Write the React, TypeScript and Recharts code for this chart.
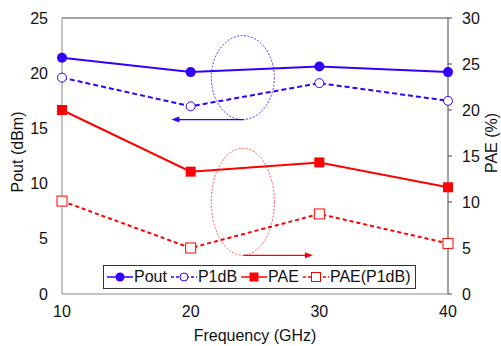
import React from 'react';
import { LineChart, Line, XAxis, YAxis, ReferenceLine, ReferenceArea, Legend } from 'recharts';

const frequencies = [10, 20, 30, 40];
const pout = [21.4, 20.1, 20.6, 20.1];
const p1db = [19.6, 17.0, 19.1, 17.5];
const pae = [20.0, 13.3, 14.3, 11.6];
const paeP1db = [10.1, 5.0, 8.7, 5.5];

const xTicks = [10, 20, 30, 40];
const leftTicks = [0, 5, 10, 15, 20, 25];
const rightTicks = [0, 5, 10, 15, 20, 25, 30];

// annotation positions in data units (left axis)
const blueEllipse = { x1: 21.6, x2: 26.5, y1: 15.8, y2: 23.4 };
const blueArrow = [{ x: 24.1, y: 15.8 }, { x: 18.5, y: 15.8 }];
const redEllipse = { x1: 21.6, x2: 26.5, y1: 3.5, y2: 13.2 };
const redArrow = [{ x: 24.1, y: 3.5 }, { x: 29.5, y: 3.5 }];

const BLUE = '#3300ff';
const RED = '#ff0000';
const FONT = '"Liberation Sans", Arial, sans-serif';

const data = frequencies.map((f, i) => ({
  freq: f,
  Pout: pout[i],
  P1dB: p1db[i],
  PAE: pae[i],
  PAEP1dB: paeP1db[i],
}));

const FilledSquare = (props: any) => {
  const { cx, cy } = props;
  return <rect x={cx - 5} y={cy - 5} width={10} height={10} fill={RED} stroke="none" />;
};
const OpenSquare = (props: any) => {
  const { cx, cy } = props;
  return <rect x={cx - 5} y={cy - 5} width={10} height={10} fill="#fff" stroke={RED} strokeWidth={1} />;
};

const ellipseShape = (color: string) => (p: any) => {
  const w = Math.abs(p.width);
  const h = Math.abs(p.height);
  return (
    <ellipse
      cx={p.x + p.width / 2}
      cy={p.y + p.height / 2}
      rx={w / 2}
      ry={h / 2}
      fill="none"
      stroke={color}
      strokeWidth={1}
      strokeDasharray="2 1.5"
      strokeOpacity={0.8}
    />
  );
};

const arrowShape = (color: string) => (p: any) => {
  const { x1, y1, x2, y2 } = p;
  const dir = x2 > x1 ? 1 : -1;
  const hx = x2;
  return (
    <g>
      <line x1={x1} y1={y1} x2={x2 - dir * 5} y2={y2} stroke={color} strokeWidth={1.2} />
      <polygon
        points={`${hx},${y2} ${hx - dir * 8},${y2 - 3} ${hx - dir * 8},${y2 + 3}`}
        fill={color}
      />
    </g>
  );
};

const legendItems = [
  { name: 'Pout', color: BLUE, dash: '', marker: 'circleFilled' },
  { name: 'P1dB', color: BLUE, dash: '3 2', marker: 'circleOpen' },
  { name: 'PAE', color: RED, dash: '', marker: 'squareFilled' },
  { name: 'PAE(P1dB)', color: RED, dash: '3 2', marker: 'squareOpen' },
];

const LegendIcon = ({ item }: any) => (
  <svg width={26} height={14} style={{ display: 'block' }}>
    <line x1={0} y1={7} x2={26} y2={7} stroke={item.color} strokeWidth={1.5} strokeDasharray={item.dash || undefined} />
    {item.marker === 'circleFilled' && <circle cx={13} cy={7} r={4.5} fill={item.color} />}
    {item.marker === 'circleOpen' && <circle cx={13} cy={7} r={4} fill="#fff" stroke={item.color} strokeWidth={1} />}
    {item.marker === 'squareFilled' && <rect x={8.5} y={2.5} width={9} height={9} fill={item.color} />}
    {item.marker === 'squareOpen' && <rect x={8.5} y={2.5} width={9} height={9} fill="#fff" stroke={item.color} strokeWidth={1} />}
  </svg>
);

const LegendContent = () => (
  <div
    style={{
      display: 'flex',
      alignItems: 'center',
      border: '1px solid #333',
      background: '#fff',
      height: 24,
      padding: '0 2px 0 3px',
      fontFamily: FONT,
      fontSize: 16,
      color: '#111',
      boxSizing: 'border-box',
      width: 313,
    }}
  >
    {legendItems.map((it) => (
      <div key={it.name} style={{ display: 'flex', alignItems: 'center', marginRight: 4 }}>
        <LegendIcon item={it} />
        <span style={{ marginLeft: 1 }}>{it.name}</span>
      </div>
    ))}
  </div>
);

const leftLabel = () => (
  <text
    x={17}
    y={152}
    transform="rotate(-90 17 152)"
    textAnchor="middle"
    dominantBaseline="central"
    fontFamily={FONT}
    fontSize={16}
    fill="#111"
  >
    Pout (dBm)
  </text>
);

const rightLabel = () => (
  <text
    x={491}
    y={143}
    transform="rotate(-90 491 143)"
    textAnchor="middle"
    dominantBaseline="central"
    fontFamily={FONT}
    fontSize={16}
    fill="#111"
  >
    PAE (%)
  </text>
);

const bottomLabel = () => (
  <text x={255} y={335} textAnchor="middle" dominantBaseline="central" fontFamily={FONT} fontSize={16} fill="#111">
    Frequency (GHz)
  </text>
);

const tickStyle = { fontFamily: FONT, fontSize: 16, fill: '#111' };

export default function App() {
  return (
    <div style={{ position: 'absolute', left: 0, top: 0, width: 501, height: 346, background: '#fff' }}>
      <LineChart width={501} height={346} data={data} margin={{ top: 18, right: 0, left: 0, bottom: 0 }}>
        <XAxis
          dataKey="freq"
          type="number"
          domain={[10, 40]}
          ticks={xTicks}
          tickLine={false}
          tickSize={0}
          tickMargin={12}
          height={52}
          axisLine={{ stroke: '#888' }}
          tick={tickStyle}
          label={{ content: bottomLabel }}
        />
        <YAxis
          yAxisId="left"
          domain={[0, 25]}
          ticks={leftTicks}
          width={62}
          tickLine={false}
          tickSize={0}
          tickMargin={14}
          axisLine={{ stroke: '#888' }}
          tick={tickStyle}
          label={{ content: leftLabel }}
        />
        <YAxis
          yAxisId="right"
          orientation="right"
          domain={[0, 30]}
          ticks={rightTicks}
          width={53}
          tickSize={4}
          tickMargin={10}
          tickLine={{ stroke: '#444' }}
          axisLine={{ stroke: '#444' }}
          tick={tickStyle}
          label={{ content: rightLabel }}
        />
        <ReferenceLine yAxisId="left" y={25} stroke="#444" strokeWidth={1} />

        <ReferenceArea
          yAxisId="left"
          x1={blueEllipse.x1}
          x2={blueEllipse.x2}
          y1={blueEllipse.y1}
          y2={blueEllipse.y2}
          shape={ellipseShape(BLUE)}
        />
        <ReferenceArea
          yAxisId="left"
          x1={redEllipse.x1}
          x2={redEllipse.x2}
          y1={redEllipse.y1}
          y2={redEllipse.y2}
          shape={ellipseShape('#ff3333')}
        />
        <ReferenceLine yAxisId="left" segment={blueArrow} shape={arrowShape(BLUE)} />
        <ReferenceLine yAxisId="left" segment={redArrow} shape={arrowShape(RED)} />

        <Line
          yAxisId="left"
          dataKey="Pout"
          stroke={BLUE}
          strokeWidth={2}
          dot={{ r: 5, fill: BLUE, stroke: BLUE, strokeWidth: 0 }}
          isAnimationActive={false}
        />
        <Line
          yAxisId="left"
          dataKey="P1dB"
          stroke={BLUE}
          strokeWidth={2}
          strokeDasharray="5 3"
          dot={{ r: 4.5, fill: '#fff', stroke: BLUE, strokeWidth: 1, strokeDasharray: '' }}
          isAnimationActive={false}
        />
        <Line
          yAxisId="right"
          dataKey="PAE"
          stroke={RED}
          strokeWidth={2}
          dot={<FilledSquare />}
          isAnimationActive={false}
        />
        <Line
          yAxisId="right"
          dataKey="PAEP1dB"
          name="PAE(P1dB)"
          stroke={RED}
          strokeWidth={2}
          strokeDasharray="4 3"
          dot={<OpenSquare />}
          isAnimationActive={false}
        />
        <Legend
          verticalAlign="middle"
          align="center"
          content={<LegendContent />}
          wrapperStyle={{ position: 'absolute', left: 103, top: 265, width: 313, height: 24, bottom: 'auto' }}
        />
      </LineChart>
    </div>
  );
}
